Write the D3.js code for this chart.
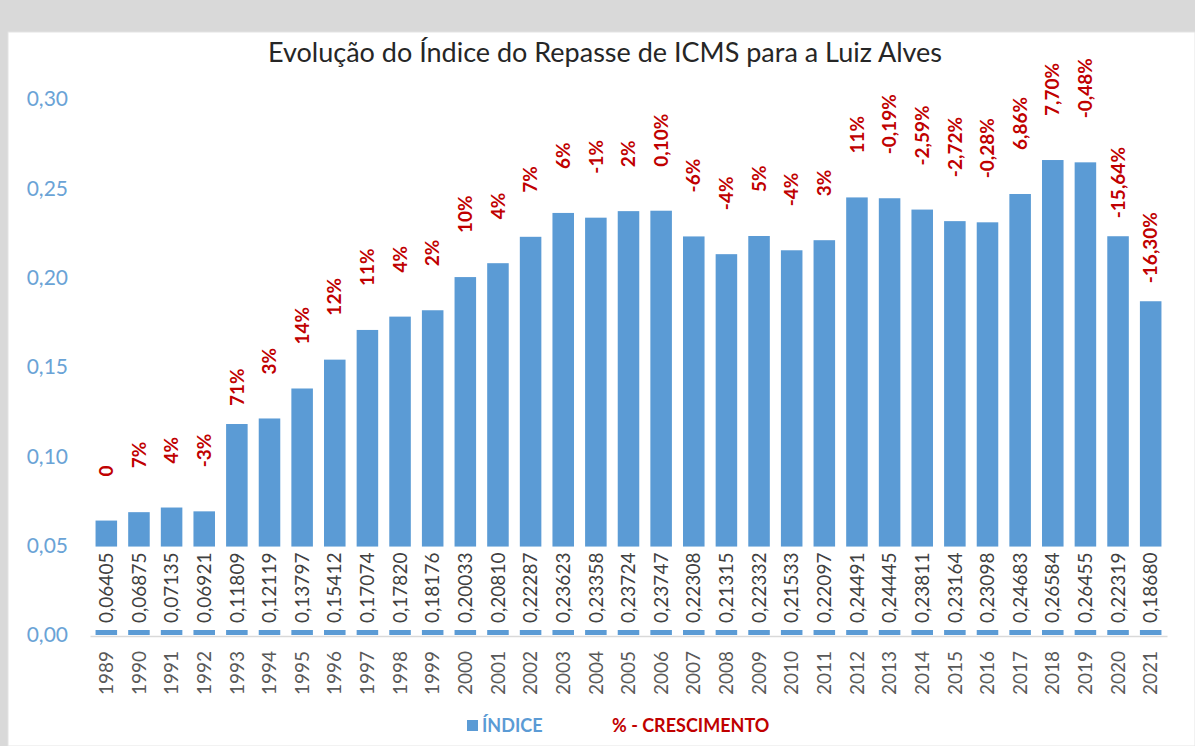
<!DOCTYPE html>
<html>
<head>
<meta charset="utf-8">
<script src="https://cdn.jsdelivr.net/npm/d3@7"></script>
<style>
  body { margin: 0; background: #d9d9d9; }
  svg { display: block; font-family: Lato, "Open Sans", sans-serif; }
</style>
</head>
<body>
<svg id="chart" width="1195" height="746"></svg>
<script>
// Data
var years = ['1989', '1990', '1991', '1992', '1993', '1994', '1995', '1996', '1997', '1998', '1999',
  '2000', '2001', '2002', '2003', '2004', '2005', '2006', '2007', '2008', '2009', '2010',
  '2011', '2012', '2013', '2014', '2015', '2016', '2017', '2018', '2019', '2020', '2021']

var indice = [0.06405, 0.06875, 0.07135, 0.06921, 0.11809, 0.12119, 0.13797, 0.15412, 0.17074,
  0.17820, 0.18176, 0.20033, 0.20810, 0.22287, 0.23623, 0.23358, 0.23724, 0.23747, 0.22308,
  0.21315, 0.22332, 0.21533, 0.22097, 0.24491, 0.24445, 0.23811, 0.23164, 0.23098, 0.24683,
  0.26584, 0.26455, 0.22319, 0.18680]

var crescimento = ['0', '7%', '4%', '-3%', '71%', '3%', '14%', '12%', '11%', '4%', '2%',
  '10%', '4%', '7%', '6%', '-1%', '2%', '0,10%', '-6%', '-4%', '5%', '-4%',
  '3%', '11%', '-0,19%', '-2,59%', '-2,72%', '-0,28%', '6,86%', '7,70%', '-0,48%', '-15,64%', '-16,30%']

var yTicks = [0, 0.05, 0.10, 0.15, 0.20, 0.25, 0.30]

var title = 'Evolução do Índice do Repasse de ICMS para a Luiz Alves'

// Layout
var dims = { width: 1195, height: 746, left: 90, right: 1167, top: 99, bottom: 635 }
var blue = '#5b9bd5'
var red = '#c00000'
var grey = '#595959'

var svg = d3.select('#chart')

// window frame + white panel
svg.append('rect').attr('width', dims.width).attr('height', dims.height).attr('fill', '#d9d9d9')
svg.append('rect').attr('x', 8).attr('y', 32).attr('width', dims.width - 8).attr('height', dims.height - 32)
  .attr('fill', '#ffffff').attr('stroke', '#e4e4e4')

var xScale = d3.scaleBand().domain(years).range([dims.left, dims.right]).paddingInner(0.34).paddingOuter(0.17)
var yScale = d3.scaleLinear().domain([0, 0.30]).range([dims.bottom, dims.top])

var fmtTick = function(d) { return d3.format('.2f')(d).replace('.', ',') }
var fmtVal = function(d) { return d3.format('.5f')(d).replace('.', ',') }

// title
svg.append('text')
  .attr('x', 605).attr('y', 62)
  .attr('text-anchor', 'middle')
  .attr('font-size', 27)
  .attr('fill', '#262626')
  .text(title)

// y axis (labels only, no line)
var yAxis = d3.axisLeft(yScale).tickValues(yTicks).tickFormat(fmtTick).tickSize(0).tickPadding(22)
var gy = svg.append('g').attr('transform', 'translate(' + dims.left + ',0)').call(yAxis)
gy.select('.domain').remove()
gy.selectAll('text').attr('fill', '#6aa3d6').attr('font-size', 21).attr('font-family', 'Lato, sans-serif')

// bars
svg.append('g').selectAll('rect').data(indice).enter().append('rect')
  .attr('x', function(d, i) { return xScale(years[i]) })
  .attr('width', xScale.bandwidth())
  .attr('y', function(d) { return yScale(d) })
  .attr('height', function(d) { return yScale(0) - yScale(d) })
  .attr('fill', blue)

// x axis line
var xAxis = d3.axisBottom(xScale).tickSize(0).tickPadding(0)
var gx = svg.append('g').attr('transform', 'translate(0,' + (yScale(0) + 1) + ')').call(xAxis)
gx.select('.domain').attr('stroke', '#d9d9d9').attr('stroke-width', 1.5)
gx.selectAll('.tick text')
  .attr('font-size', 19)
  .attr('font-family', 'Lato, sans-serif')
  .attr('fill', grey)
  .attr('text-anchor', 'end')
  .attr('dy', '0.35em')
  .attr('transform', 'translate(0,15) rotate(-90)')

// value labels inside base, on white boxes
var valG = svg.append('g')
indice.forEach(function(d, i) {
  var cx = xScale(years[i]) + xScale.bandwidth() / 2
  var base = yScale(0) - 12
  var g = valG.append('g').attr('transform', 'translate(' + cx + ',' + base + ') rotate(-90)')
  var box = g.append('rect').attr('fill', '#ffffff')
  var t = g.append('text')
    .attr('x', 0).attr('y', 0)
    .attr('dy', '0.35em')
    .attr('font-size', 19)
    .attr('fill', '#404040')
    .text(fmtVal(d))
  var len = t.node().getComputedTextLength()
  box.attr('x', -7).attr('y', -xScale.bandwidth() / 2 - 2)
    .attr('width', len + 13).attr('height', xScale.bandwidth() + 4)
})

// growth labels above bars
var tight = ['1993', '2020', '2021']
var pctG = svg.append('g')
crescimento.forEach(function(d, i) {
  var cx = xScale(years[i]) + xScale.bandwidth() / 2
  var gap = tight.indexOf(years[i]) >= 0 ? 18 : 44
  var by = yScale(indice[i]) - gap
  pctG.append('text')
    .attr('transform', 'translate(' + cx + ',' + by + ') rotate(-90)')
    .attr('dy', '0.35em')
    .attr('font-size', 19)
    .attr('font-weight', 'bold')
    .attr('fill', red)
    .text(d)
})

// legend
var leg = svg.append('g').attr('transform', 'translate(467,726)')
leg.append('rect').attr('x', 0).attr('y', -6).attr('width', 11).attr('height', 11).attr('fill', blue)
leg.append('text').attr('x', 15).attr('dy', '0.35em').attr('font-size', 18).attr('font-weight', 'bold')
  .attr('fill', blue).text('ÍNDICE')
leg.append('text').attr('x', 145).attr('dy', '0.35em').attr('font-size', 18).attr('font-weight', 'bold')
  .attr('fill', red).text('% - CRESCIMENTO')
</script>
</body>
</html>
